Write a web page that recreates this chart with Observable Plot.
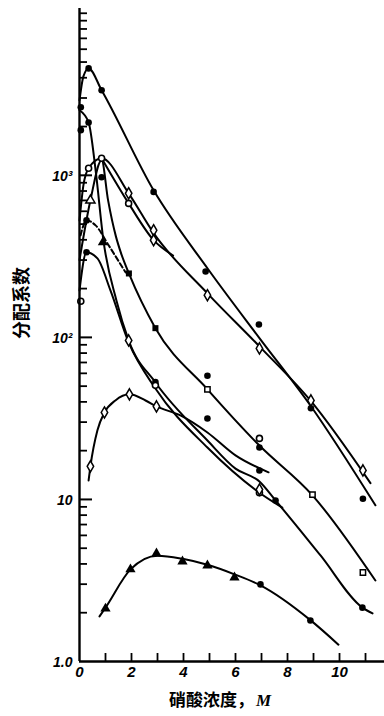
<!DOCTYPE html>
<html><head><meta charset="utf-8">
<script src="https://cdn.jsdelivr.net/npm/d3@7"></script>
<script src="https://cdn.jsdelivr.net/npm/@observablehq/plot@0.6"></script>
<style>body{margin:0;background:#fff}</style>
</head><body><div id="chart"></div>
<script>
// ---- curves (HNO3 concentration M, distribution coefficient) ----
const curveA_x = [0, 0.15, 0.35, 0.85, 2.85, 4.92, 6.92, 8.88, 11.38];
const curveA_y = [2900, 4080, 4570, 3350, 808, 267, 99, 38, 9.2];

const curveO_x = [0, 0.15, 0.35, 0.85, 1.89, 2.85, 4.92, 6.92, 8.88, 11.19];
const curveO_y = [527, 867, 1105, 1274, 774, 440, 187, 88, 40.8, 12.6];

const curveO2_x = [0.85, 1.89, 2.85, 3.6];
const curveO2_y = [1274, 671, 398, 320];

const curveG_x = [0, 0.42, 0.85, 1.1, 1.4, 1.6, 1.9, 2.92, 4.92, 6.92, 8.96, 11.38];
const curveG_y = [300, 701, 1240, 700, 420, 330, 248, 114, 47.8, 21.5, 10.6, 3.16];

const curveB_x = [0, 0.35, 0.62, 0.92, 1.42, 1.89, 2.92, 4.92, 6.0, 6.92, 7.54, 9.27, 10.88, 11.27];
const curveB_y = [2520, 2120, 1074, 397, 169, 95.8, 52.7, 23.1, 15.5, 12.9, 9.86, 4.51, 2.15, 1.98];

const curveC_x = [0, 0.27, 0.69, 1.19, 1.89, 2.92, 4.92, 6.92, 7.8];
const curveC_y = [195, 335, 307, 195, 93, 48.4, 20.9, 11.0, 8.9];

const curveD_x = [0.35, 0.42, 0.69, 0.96, 1.38, 1.92, 2.54, 2.96, 3.88, 4.92, 6.0, 7.27];
const curveD_y = [13.1, 16.0, 26.7, 34.4, 40.8, 44.5, 40.8, 37.5, 33.0, 25.9, 18.7, 14.7];

const curveT_x = [0.77, 1.0, 1.96, 3.0, 3.96, 4.92, 5.96, 6.96, 8.88, 9.96];
const curveT_y = [1.90, 2.15, 3.7, 4.5, 4.3, 3.95, 3.45, 2.95, 1.8, 1.27];

const dashed_x = [0.04, 0.27, 0.62, 1.12, 1.77];
const dashed_y = [426, 527, 491, 370, 252];

// ---- experimental points ----
const filledCircles = [[0.05,2630],[0.05,1900],[0.35,4570],[0.85,3350],[2.85,790],[4.85,255],[6.9,120],[8.9,36.5],[10.9,10.1],
  [0.35,2120],[0.85,972],[4.92,58],[6.92,20.9],[4.92,31.6],[7.54,9.86],[10.88,2.15],[2.92,53],[0.27,335],[0.27,527],[6.92,15.1],
  [6.96,2.99],[8.88,1.79]];
const openCircles = [[0.35,1105],[0.85,1274],[1.89,671],[2.92,50.6],[6.92,23.8],[0.05,167],[6.92,11.0]];
const openDiamonds = [[1.89,774],[2.85,458],[2.85,398],[4.92,182],[6.92,85.5],[8.9,40.8],[10.9,15.1],
  [0.42,16],[0.96,34.4],[1.92,44.5],[2.96,37.5],[1.89,95.8],[6.92,11.5]];
const openSquares = [[4.92,47.8],[8.96,10.7],[10.9,3.54]];
const filledSquares = [[1.9,248],[2.92,114]];
const openTriangles = [[0.42,701]];
const filledTriangles = [[1.0,2.12],[1.96,3.70],[2.96,4.64],[3.96,4.14],[4.92,3.91],[5.96,3.30],[0.9,386]];

// ---- ticks ----
const xTicks = [1,2,3,4,5,6,7,8,9,10,11];
const xTickLabels = [0,2,4,6,8,10];
const yMajor = [10,100,1000];
const yMinor = [2,3,4,5,6,7,8,9,20,30,40,50,60,70,80,90,200,300,400,500,600,700,800,900,2000,3000,4000,5000,6000,7000,8000,9000,10000];
const yLabelValues = [1,10,100,1000];
const yLabelTexts = ["1.0","10","10²","10³"];

const curves = [
  ["A", curveA_x, curveA_y], ["O", curveO_x, curveO_y], ["O2", curveO2_x, curveO2_y],
  ["G", curveG_x, curveG_y], ["B", curveB_x, curveB_y], ["C", curveC_x, curveC_y],
  ["D", curveD_x, curveD_y], ["T", curveT_x, curveT_y]
];
const lineData = curves.flatMap(([name, xs, ys]) => xs.map((x, i) => ({curve: name, x, y: ys[i]})));
const dashData = dashed_x.map((x, i) => ({x, y: dashed_y[i]}));

const numFont = {fontFamily: "Liberation Sans", fontStyle: "italic", fontWeight: "bold", fill: "black"};
const cjkFont = {fontFamily: "Noto Sans CJK SC", fontWeight: "bold", fill: "black"};
const px = d => d[0], py = d => d[1];

const W = 384, H = 716, mL = 79, mR = 0, mT = 8, mB = 55;
const frameW = W - mL - mR, frameH = H - mT - mB;

const plot = Plot.plot({
  width: W, height: H,
  marginLeft: mL, marginRight: mR, marginTop: mT, marginBottom: mB,
  x: {domain: [0, 11.73], axis: null},
  y: {type: "log", domain: [1, 10700], axis: null},
  marks: [
    Plot.line(lineData, {x: "x", y: "y", z: "curve", curve: "monotone-x", stroke: "black", strokeWidth: 2}),
    Plot.line(dashData, {x: "x", y: "y", curve: "monotone-x", stroke: "black", strokeWidth: 2, strokeDasharray: "5,3"}),
    Plot.dot(filledCircles, {x: px, y: py, r: 3.3, fill: "black"}),
    Plot.dot(openCircles, {x: px, y: py, r: 3, fill: "white", stroke: "black", strokeWidth: 1.6}),
    Plot.dot(openDiamonds, {x: px, y: py, r: 3.4, symbol: "diamond", fill: "white", stroke: "black", strokeWidth: 1.5}),
    Plot.dot(openSquares, {x: px, y: py, r: 3, symbol: "square", fill: "white", stroke: "black", strokeWidth: 1.5}),
    Plot.dot(filledSquares, {x: px, y: py, r: 3.4, symbol: "square", fill: "black"}),
    Plot.dot(openTriangles, {x: px, y: py, r: 3.4, symbol: "triangle", fill: "white", stroke: "black", strokeWidth: 1.5}),
    Plot.dot(filledTriangles, {x: px, y: py, r: 3.8, symbol: "triangle", fill: "black"}),
    // axes: inward ticks
    Plot.tickX(xTicks, {x: d => d, insetTop: frameH - 8, stroke: "black", strokeWidth: 1.8}),
    Plot.tickY(yMinor, {y: d => d, insetRight: frameW - 8, stroke: "black", strokeWidth: 1.8}),
    Plot.tickY(yMajor, {y: d => d, insetRight: frameW - 13, stroke: "black", strokeWidth: 2}),
    Plot.ruleX([0], {stroke: "black", strokeWidth: 2.4}),
    Plot.ruleY([1], {stroke: "black", strokeWidth: 2.4}),
    Plot.text(xTickLabels, {x: d => d, text: d => String(d), frameAnchor: "bottom", lineAnchor: "middle", dy: 11, fontSize: 15, ...numFont}),
    Plot.text(yLabelValues, {y: d => d, text: (d, i) => yLabelTexts[i], frameAnchor: "left", dx: -7, dy: 1, textAnchor: "end", fontSize: 14, ...numFont}),
    Plot.text(["分配系数"], {frameAnchor: "left", lineAnchor: "middle", dx: -57, dy: 4, rotate: -90, fontSize: 18, letterSpacing: "2px", ...cjkFont}),
    Plot.text(["硝酸浓度，"], {frameAnchor: "bottom", lineAnchor: "middle", dx: 22, dy: 39, textAnchor: "end", fontSize: 17, ...cjkFont}),
    Plot.text(["M"], {frameAnchor: "bottom", lineAnchor: "middle", dx: 24, dy: 39, textAnchor: "start", fontSize: 17, fontStyle: "italic", fontWeight: "bold", fontFamily: "Liberation Serif", fill: "black"})
  ]
});
document.getElementById("chart").appendChild(plot);
</script>
</body></html>
